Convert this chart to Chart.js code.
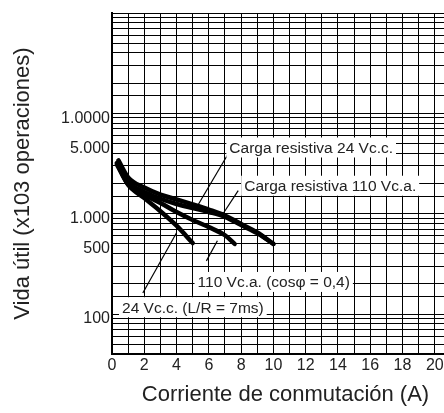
<!DOCTYPE html>
<html>
<head>
<meta charset="utf-8">
<script src="https://cdn.jsdelivr.net/npm/chart.js@4"></script>
<style>
  html, body { margin: 0; padding: 0; background: #fff; overflow: hidden; }
  #wrap { width: 461px; height: 413px; }
</style>
</head>
<body>
<div id="wrap"><canvas id="vida"></canvas></div>
<script>
// Vida útil frente a corriente de conmutación

// Curvas (corriente en A, vida en x10^3 operaciones)
const res24Current = [0.4, 1, 2, 3, 4, 5, 6, 7, 8, 9, 10];
const res24Life = [3400, 2300, 1820, 1550, 1390, 1240, 1100, 960, 790, 650, 500];
const res110Current = [0.4, 1, 2, 3, 4, 5, 6, 7, 8, 9, 10];
const res110Life = [3300, 2100, 1650, 1410, 1250, 1140, 1040, 930, 770, 640, 500];
const cosCurrent = [0.3, 1, 2, 3, 4, 5, 6, 7, 7.6];
const cosLife = [3200, 1950, 1540, 1280, 1040, 865, 735, 610, 500];
const lrCurrent = [0.3, 1, 2, 3, 4, 5];
const lrLife = [3100, 1950, 1430, 1060, 760, 510];

// Etiquetas de los ejes
const xTickValues = [0, 2, 4, 6, 8, 10, 12, 14, 16, 18, 20];
const yTickValues = [100, 500, 1000, 5000, 10000];
const yTickLabels = ["100", "500", "1.000", "5.000", "1.0000"];

// Notas con su línea de referencia (coordenadas de datos)
const notes = [
  { text: "Carga resistiva 24 Vc.c.", at: [7.27, 4570], from: [7.21, 3980], to: [5.3, 1200] },
  { text: "Carga resistiva 110 Vc.a.", at: [8.19, 1900], from: [7.82, 1700], to: [6.84, 977] },
  { text: "110 Vc.a. (cosφ = 0,4)", at: [5.3, 209], from: [6.53, 537], to: [5.85, 339] },
  { text: "24 Vc.c. (L/R = 7ms)", at: [0.62, 117], from: [4.0, 646], to: [1.91, 162] },
];

const fontFamily = "'Liberation Sans', Arial, sans-serif";

const toPoints = (xs, ys) => xs.map((x, i) => ({ x: x, y: ys[i] }));

const curve = (label, xs, ys) => ({
  label: label,
  data: toPoints(xs, ys),
  showLine: true,
  borderColor: "#000",
  borderWidth: 4.5,
  borderCapStyle: "round",
  pointRadius: 0,
  cubicInterpolationMode: "monotone",
});

// Dibuja las notas: caja blanca, texto y línea
const notesPlugin = {
  id: "notes",
  beforeDatasetsDraw(chart) {
    const ctx = chart.ctx;
    const sx = chart.scales.x;
    const sy = chart.scales.y;
    ctx.save();
    ctx.font = "15.5px " + fontFamily;
    ctx.textBaseline = "middle";
    ctx.textAlign = "left";
    notes.forEach((n) => {
      ctx.strokeStyle = "#000";
      ctx.lineWidth = 1.2;
      ctx.beginPath();
      ctx.moveTo(sx.getPixelForValue(n.from[0]), sy.getPixelForValue(n.from[1]));
      ctx.lineTo(sx.getPixelForValue(n.to[0]), sy.getPixelForValue(n.to[1]));
      ctx.stroke();
      const px = sx.getPixelForValue(n.at[0]);
      const py = sy.getPixelForValue(n.at[1]);
      const w = ctx.measureText(n.text).width;
      ctx.fillStyle = "#fff";
      ctx.fillRect(px - 3, py - 10, w + 6, 20);
      ctx.fillStyle = "#222";
      ctx.fillText(n.text, px, py + 1);
    });
    ctx.restore();
  },
};

new Chart(document.getElementById("vida"), {
  type: "scatter",
  data: {
    datasets: [
      curve("Carga resistiva 24 Vc.c.", res24Current, res24Life),
      curve("Carga resistiva 110 Vc.a.", res110Current, res110Life),
      curve("110 Vc.a. (cosφ = 0,4)", cosCurrent, cosLife),
      curve("24 Vc.c. (L/R = 7ms)", lrCurrent, lrLife),
    ],
  },
  options: {
    responsive: true,
    maintainAspectRatio: false,
    animation: false,
    layout: { padding: { top: 13, left: 0, right: 0, bottom: 0 } },
    plugins: {
      legend: { display: false },
      tooltip: { enabled: false },
    },
    scales: {
      x: {
        type: "linear",
        min: 0,
        max: 21.5,
        afterFit: (scale) => { scale.height = 59; },
        border: { color: "#000", width: 2 },
        grid: { color: "#000", lineWidth: 1, drawTicks: false },
        ticks: {
          stepSize: 1,
          autoSkip: false,
          maxRotation: 0,
          padding: 2,
          color: "#222",
          font: { family: fontFamily, size: 16 },
          callback: (v) => (xTickValues.includes(v) ? String(v) : ""),
        },
        title: {
          display: true,
          text: "Corriente de conmutación (A)",
          color: "#222",
          font: { family: fontFamily, size: 22 },
          padding: { top: 0, bottom: 5 },
        },
      },
      y: {
        type: "logarithmic",
        min: 40,
        max: 100000,
        afterFit: (scale) => { scale.width = 112; },
        border: { color: "#000", width: 2 },
        grid: { color: "#000", lineWidth: 1, drawTicks: false },
        ticks: {
          autoSkip: false,
          padding: 2,
          labelOffset: 5,
          color: "#222",
          font: { family: fontFamily, size: 16 },
          callback: (v) => {
            const i = yTickValues.indexOf(v);
            return i >= 0 ? yTickLabels[i] : "";
          },
        },
        title: {
          display: true,
          text: "Vida útil (x103 operaciones)",
          color: "#222",
          font: { family: fontFamily, size: 22 },
          padding: { top: 10, bottom: 0 },
        },
      },
    },
  },
  plugins: [notesPlugin],
});
</script>
</body>
</html>
